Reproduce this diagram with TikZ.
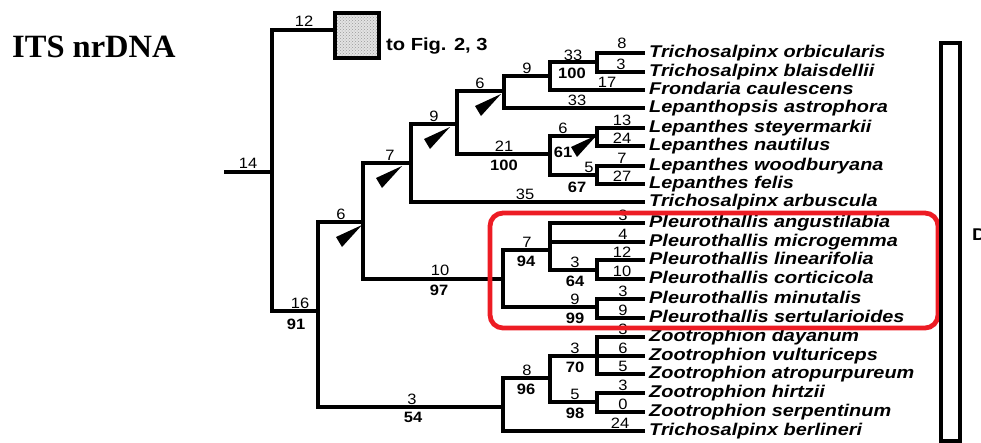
\documentclass[tikz,border=0pt]{standalone}
\usepackage{fontspec}
\usetikzlibrary{patterns}
\setmainfont{Liberation Serif}
\newfontfamily\taxfont[FakeStretch=1.17]{Liberation Sans}
\newfontfamily\numfont[FakeStretch=1.1]{Liberation Sans}
\newfontfamily\figfont[FakeStretch=1.15]{Liberation Sans}
\definecolor{boxred}{RGB}{237,28,36}
\tikzset{
  br/.style={line width=3.8pt, line join=miter},
  taxon/.style={anchor=west, inner xsep=4pt, inner ysep=0pt, text height=12.5pt, text depth=3.7pt,
    font=\taxfont\bfseries\itshape\fontsize{17}{17}\selectfont},
  num/.style={font=\numfont\fontsize{15}{15}\selectfont, inner sep=0pt, anchor=base},
  bnum/.style={font=\numfont\bfseries\fontsize{15}{15}\selectfont, inner sep=0pt, anchor=base},
  wedgemk/.pic={\fill (0,0) -- (-26,12) -- (-20,22) -- cycle;}
}
\begin{document}
\begin{tikzpicture}[x=1pt,y=-1pt]
\useasboundingbox (0,0) rectangle (981,442);
% title
\node[anchor=base west, inner sep=0pt, font=\bfseries\fontsize{32.5}{33}\selectfont] (title) at (12,57) {ITS nrDNA};
% internal nodes
\coordinate (r0) at (224,172);
\coordinate (R) at (272,172);
\coordinate (S) at (318,311);
\coordinate (A) at (363,222);
\coordinate (B) at (411,163);
\coordinate (C) at (457,124);
\coordinate (D) at (504,91);
\coordinate (F) at (550,76);
\coordinate (G) at (597,62);
\coordinate (E) at (550,154);
\coordinate (H) at (597,136);
\coordinate (I) at (597,175);
\coordinate (J) at (503,279);
\coordinate (K) at (550,250);
\coordinate (L) at (597,270);
\coordinate (M) at (597,307);
\coordinate (N) at (503,407);
\coordinate (O) at (550,378);
\coordinate (P) at (597,356);
\coordinate (Q) at (597,402);
% box to fig 2,3
\node[draw, line width=4.2pt, fill=gray!22, minimum width=44pt, minimum height=45pt, inner sep=0pt] (fig) at (357,35.5) {};
\fill[pattern=crosshatch dots, pattern color=gray!80] (337,15.5) rectangle (377,55.5);
\node[anchor=base west, inner sep=0pt, font=\figfont\bfseries\fontsize{17.5}{18}\selectfont] (figtxt) at (386,50) {to Fig. 2, 3};
% taxa
\node[taxon] (t1) at (645,53) {Trichosalpinx orbicularis};
\node[taxon] (t2) at (645,72) {Trichosalpinx blaisdellii};
\node[taxon] (t3) at (645,90) {Frondaria caulescens};
\node[taxon] (t4) at (645,108) {Lepanthopsis astrophora};
\node[taxon] (t5) at (645,128) {Lepanthes steyermarkii};
\node[taxon] (t6) at (645,146) {Lepanthes nautilus};
\node[taxon] (t7) at (645,166) {Lepanthes woodburyana};
\node[taxon] (t8) at (645,184) {Lepanthes felis};
\node[taxon] (t9) at (645,202) {Trichosalpinx arbuscula};
\node[taxon] (t10) at (645,223) {Pleurothallis angustilabia};
\node[taxon] (t11) at (645,242) {Pleurothallis microgemma};
\node[taxon] (t12) at (645,260) {Pleurothallis linearifolia};
\node[taxon] (t13) at (645,279) {Pleurothallis corticicola};
\node[taxon] (t14) at (645,299) {Pleurothallis minutalis};
\node[taxon] (t15) at (645,318) {Pleurothallis sertularioides};
\node[taxon] (t16) at (645,337) {Zootrophion dayanum};
\node[taxon] (t17) at (645,356) {Zootrophion vulturiceps};
\node[taxon] (t18) at (645,374) {Zootrophion atropurpureum};
\node[taxon] (t19) at (645,393) {Zootrophion hirtzii};
\node[taxon] (t20) at (645,412) {Zootrophion serpentinum};
\node[taxon] (t21) at (645,431) {Trichosalpinx berlineri};
% branches
\draw[br] (r0) -- (R);
\draw[br] (R) |- ([yshift=5.5pt]fig.west);
\draw[br] (R) |- (S);
\draw[br] (S) |- (A);
\draw[br] (S) |- (N);
\draw[br] (A) |- (B);
\draw[br] (A) |- (J);
\draw[br] (B) |- (C);
\draw[br] (B) |- (t9.west);
\draw[br] (C) |- (D);
\draw[br] (C) |- (E);
\draw[br] (D) |- (F);
\draw[br] (D) |- (t4.west);
\draw[br] (F) |- (G);
\draw[br] (F) |- (t3.west);
\draw[br] (G) |- (t1.west);
\draw[br] (G) |- (t2.west);
\draw[br] (E) |- (H);
\draw[br] (E) |- (I);
\draw[br] (H) |- (t5.west);
\draw[br] (H) |- (t6.west);
\draw[br] (I) |- (t7.west);
\draw[br] (I) |- (t8.west);
\draw[br] (J) |- (K);
\draw[br] (J) |- (M);
\draw[br] (K) |- (t10.west);
\draw[br] (K) |- (t11.west);
\draw[br] (K) |- (L);
\draw[br] (L) |- (t12.west);
\draw[br] (L) |- (t13.west);
\draw[br] (M) |- (t14.west);
\draw[br] (M) |- (t15.west);
\draw[br] (N) |- (O);
\draw[br] (N) |- (t21.west);
\draw[br] (O) |- (P);
\draw[br] (O) |- (Q);
\draw[br] (P) |- (t16.west);
\draw[br] (P) |- (t17.west);
\draw[br] (P) |- (t18.west);
\draw[br] (Q) |- (t19.west);
\draw[br] (Q) |- (t20.west);
% wedge marks
\pic at (362,225) {wedgemk};
\pic at (402,166) {wedgemk};
\pic at (450,127) {wedgemk};
\pic at (501,94) {wedgemk};
\pic at (597,135) {wedgemk};
% branch lengths (above)
\node[num] (l1) at (248,168) {14};
\node[num] (l2) at (304,26.5) {12};
\node[num] (l3) at (300,308) {16};
\node[num] (l4) at (341,219) {6};
\node[num] (l5) at (412,404) {3};
\node[num] (l6) at (390,160) {7};
\node[num] (l7) at (440,275) {10};
\node[num] (l8) at (434,121) {9};
\node[num] (l9) at (525,199) {35};
\node[num] (l10) at (480,88) {6};
\node[num] (l11) at (504,151) {21};
\node[num] (l12) at (527,73) {9};
\node[num] (l13) at (577,105) {33};
\node[num] (l14) at (573,60) {33};
\node[num] (l15) at (607,87) {17};
\node[num] (l16) at (622,48.5) {8};
\node[num] (l17) at (621,69) {3};
\node[num] (l18) at (563,133) {6};
\node[num] (l19) at (622,125) {13};
\node[num] (l20) at (622,143.5) {24};
\node[num] (l21) at (589,172) {5};
\node[num] (l22) at (622,163) {7};
\node[num] (l23) at (622,181.5) {27};
\node[num] (l24) at (527,247) {7};
\node[num] (l25) at (623,220) {3};
\node[num] (l26) at (623,239) {4};
\node[num] (l27) at (575,267) {3};
\node[num] (l28) at (622,257) {12};
\node[num] (l29) at (622,276) {10};
\node[num] (l30) at (575,304) {9};
\node[num] (l31) at (623,296) {3};
\node[num] (l32) at (623,315) {9};
\node[num] (l33) at (527,375) {8};
\node[num] (l34) at (575,353) {3};
\node[num] (l35) at (623,334) {3};
\node[num] (l36) at (623,353) {6};
\node[num] (l37) at (623,371) {5};
\node[num] (l38) at (575,399) {5};
\node[num] (l39) at (623,390) {3};
\node[num] (l40) at (623,409) {0};
\node[num] (l41) at (620,428) {24};
% bootstrap (below, bold)
\node[bnum] (b1) at (296,329) {91};
\node[bnum] (b2) at (413,422) {54};
\node[bnum] (b3) at (439,295) {97};
\node[bnum] (b4) at (504,170) {100};
\node[bnum] (b5) at (572,78) {100};
\node[bnum] (b6) at (563,157) {61};
\node[bnum] (b7) at (577,192) {67};
\node[bnum] (b8) at (526,266) {94};
\node[bnum] (b9) at (575,286) {64};
\node[bnum] (b10) at (575,323) {99};
\node[bnum] (b11) at (526,394) {96};
\node[bnum] (b12) at (575,372) {70};
\node[bnum] (b13) at (575,418) {98};
% highlight box
\draw[boxred, line width=4.8pt, rounded corners=13pt] (490,213) rectangle (938,328);
% right bar
\draw[line width=3.5pt] (941,43) rectangle (960,441);
\node[anchor=base west, inner sep=0pt, font=\figfont\bfseries\fontsize{17}{17}\selectfont] (dlab) at (972,240) {D};
\end{tikzpicture}
\end{document}
